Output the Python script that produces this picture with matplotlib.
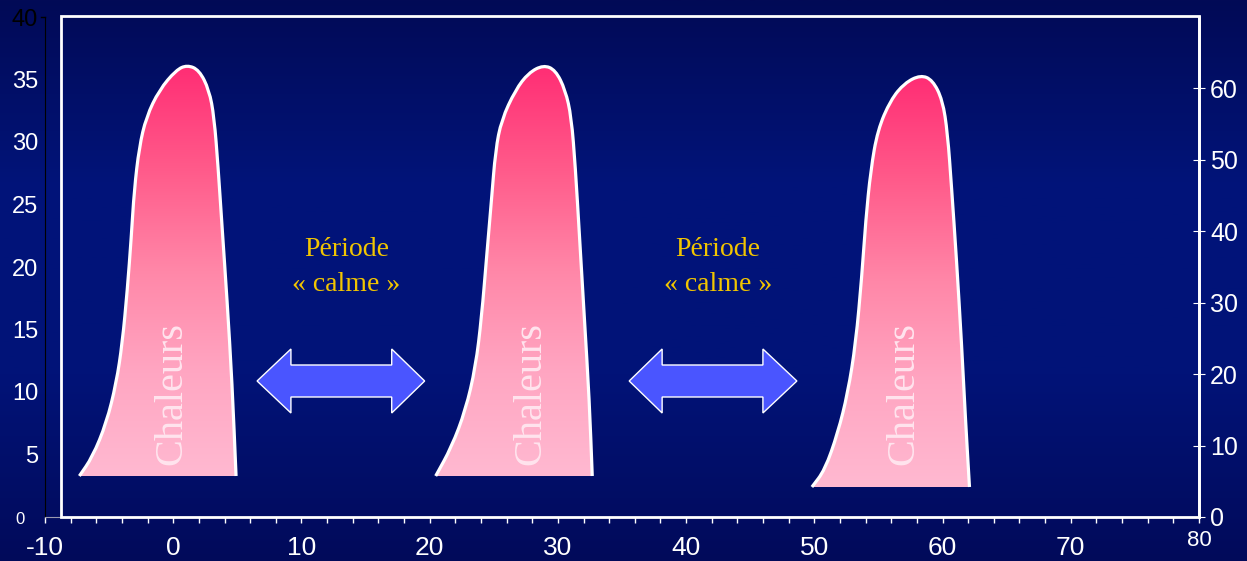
import numpy as np
import matplotlib
matplotlib.use("Agg")
import matplotlib.pyplot as plt
from matplotlib.colors import LinearSegmentedColormap
from matplotlib.patches import Polygon, Rectangle, PathPatch
from matplotlib.path import Path

# outlines of the three "Chaleurs" peaks (x = days, y = left axis units)
peak1_x = [-7.32, -6.30, -5.21, -4.44, -3.97, -3.58, -3.27, -3.04, -2.65, -2.10, -1.09,
           0.23, 1.09, 2.02, 2.80, 3.19, 3.50, 3.81, 4.20, 4.59, 4.90]
peak1_y = [3.28, 4.80, 7.52, 10.72, 13.92, 18.16, 22.40, 26.16, 29.60, 32.00, 34.16,
           35.76, 36.16, 35.76, 34.16, 32.00, 28.00, 23.20, 17.36, 10.72, 3.28]

peak2_x = [20.47, 21.71, 22.80, 23.58, 24.05, 24.44, 24.82, 25.14, 25.60, 26.69,
           27.70, 28.87, 29.81, 30.58, 31.05, 31.36, 31.67, 32.06, 32.45, 32.68]
peak2_y = [3.28, 5.60, 8.56, 12.00, 16.00, 20.80, 25.36, 29.36, 31.76, 34.16,
           35.52, 36.16, 35.76, 34.16, 32.00, 28.00, 22.72, 16.00, 9.36, 3.28]

peak3_x = [49.81, 50.82, 51.83, 52.61, 53.23, 53.70, 54.01, 54.40, 54.94, 55.95,
           57.04, 58.29, 59.22, 60.00, 60.39, 60.70, 61.09, 61.48, 61.79, 62.10]
peak3_y = [2.40, 3.76, 6.72, 9.92, 13.92, 19.20, 23.76, 27.76, 30.96, 33.36,
           34.72, 35.36, 34.96, 33.36, 30.72, 26.40, 20.56, 13.92, 7.76, 2.40]

# double arrows ("période calme")
arrow1_x = [6.54, 9.18, 9.18, 17.04, 17.04, 19.61, 17.04, 17.04, 9.18, 9.18]
arrow2_x = [35.56, 38.13, 38.13, 45.99, 45.99, 48.64, 45.99, 45.99, 38.13, 38.13]
arrow_y = [10.88, 13.44, 12.16, 12.16, 13.44, 10.88, 8.32, 9.60, 9.60, 8.32]

peak_label_x = [-0.1, 27.9, 57.0]
calm_label_x = [13.5, 42.5]

x_ticks = [-10, 0, 10, 20, 30, 40, 50, 60, 70, 80]
left_ticks = [0, 5, 10, 15, 20, 25, 30, 35, 40]
right_ticks = [0, 10, 20, 30, 40, 50, 60]

SANS = "Liberation Sans"
SERIF = "Liberation Serif"


def smooth_path(xs, ys, close=False):
    # quadratic curves through the midpoints, corners used as control points
    pts = np.column_stack([xs, ys])
    verts = [pts[0], (pts[0] + pts[1]) / 2]
    codes = [Path.MOVETO, Path.LINETO]
    for i in range(1, len(pts) - 1):
        verts += [pts[i], (pts[i] + pts[i + 1]) / 2]
        codes += [Path.CURVE3, Path.CURVE3]
    verts.append(pts[-1])
    codes.append(Path.LINETO)
    if close:
        verts.append(pts[0])
        codes.append(Path.CLOSEPOLY)
    return Path(verts, codes)


fig = plt.figure(figsize=(12.47, 5.61), dpi=100)

# slide background: vertical navy gradient
bg = fig.add_axes([0, 0, 1, 1], zorder=-10)
bg_cmap = LinearSegmentedColormap.from_list(
    "navy", ["#020a56", "#01147a", "#011378", "#020a5a"])
bg.imshow(np.linspace(0, 1, 256).reshape(-1, 1), cmap=bg_cmap, aspect="auto",
          extent=(0, 1, 0, 1))
bg.set_axis_off()

ax = fig.add_axes([45 / 1247, 44 / 561, 1154 / 1247, 500 / 561])
ax.set_facecolor("none")

pink = LinearSegmentedColormap.from_list(
    "pink", ["#ffb9d1", "#ffa6c2", "#ff87a8", "#ff5a8a", "#ff2d74"])
grad = np.linspace(0, 1, 256).reshape(-1, 1)

for px, py in [(peak1_x, peak1_y), (peak2_x, peak2_y), (peak3_x, peak3_y)]:
    fill = PathPatch(smooth_path(px, py, close=True), facecolor="none",
                     edgecolor="none")
    ax.add_patch(fill)
    im = ax.imshow(grad, cmap=pink, aspect="auto", origin="lower",
                   extent=(min(px), max(px), min(py), max(py)), zorder=2)
    im.set_clip_path(fill)
    # white outline, open at the bottom
    ax.add_patch(PathPatch(smooth_path(px, py), facecolor="none",
                           edgecolor="white", lw=2.3, zorder=3))

for xs in [arrow1_x, arrow2_x]:
    ax.add_patch(Polygon(np.column_stack([xs, arrow_y]), closed=True,
                         facecolor="#4a55ff", edgecolor="white", lw=1, zorder=3))

for x in peak_label_x:
    ax.text(x, 9.9, "Chaleurs", rotation=90, ha="center", va="center",
            family=SERIF, fontsize=29, color="#ffe4ee", zorder=4)

for x in calm_label_x:
    ax.text(x, 21.4, "Période", ha="center", va="center",
            family=SERIF, fontsize=20, color="#f2c500")
    ax.text(x, 18.6, "« calme »", ha="center", va="center",
            family=SERIF, fontsize=20, color="#f2c500")

# white frame of the plot area
ax.add_patch(Rectangle((-8.75, 0), 88.75, 40.1, facecolor="none",
                       edgecolor="white", lw=2, zorder=5, clip_on=False))

ax.set_xlim(-10, 80)
ax.set_ylim(0, 40)
for side in ["top", "right"]:
    ax.spines[side].set_visible(False)
ax.spines["left"].set_color("black")
ax.spines["bottom"].set_color("#9a9ab0")

ax.set_xticks(x_ticks)
ax.set_xticklabels([str(v) for v in x_ticks[:-1]] + [""])
ax.set_xticks(np.arange(-10, 81, 2), minor=True)
ax.tick_params(axis="x", which="both", colors="white", direction="out",
               length=4, width=1, pad=10)
for lab in ax.get_xticklabels():
    lab.set_family(SANS)
    lab.set_fontsize(19)
ax.text(80, -1.9, "80", ha="center", va="center", color="white",
        family=SANS, fontsize=16, clip_on=False)

ax.set_yticks(left_ticks)
ax.set_yticklabels([""] + [str(v) for v in left_ticks[1:]])
ax.tick_params(axis="y", colors="white", length=0, pad=5)
for lab in ax.get_yticklabels():
    lab.set_family(SANS)
    lab.set_fontsize(17)
ax.get_yticklabels()[-1].set_color("black")
# the lone black tick at the top of the left axis
ax.plot([-10.35, -10], [40, 40], color="black", lw=1, clip_on=False)
ax.annotate("0", xy=(-10, 0), xytext=(-18, -2), textcoords="offset points",
            ha="center", va="center", color="white", family=SANS, fontsize=12,
            annotation_clip=False)

ax2 = ax.twinx()
ax2.set_ylim(0, 70)
ax2.set_yticks(right_ticks)
for side in ["top", "left", "bottom"]:
    ax2.spines[side].set_visible(False)
ax2.spines["right"].set_color("white")
ax2.spines["right"].set_linewidth(2)
ax2.tick_params(axis="y", colors="white", direction="inout", length=8, pad=4)
for lab in ax2.get_yticklabels():
    lab.set_family(SANS)
    lab.set_fontsize(18)

fig.savefig("out.png", dpi=100)
